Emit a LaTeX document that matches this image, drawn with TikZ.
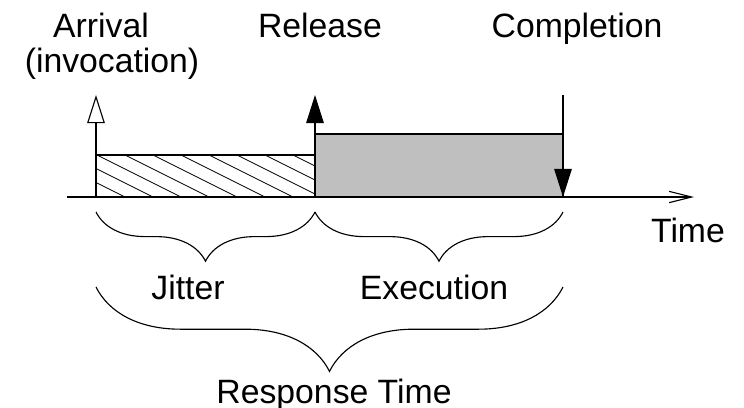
\documentclass[tikz,border=0pt]{standalone}
\usepackage{fontspec}
\setmainfont{Liberation Sans}
\usetikzlibrary{arrows.meta,decorations.pathreplacing}

\begin{document}
\begin{tikzpicture}[x=0.025cm,y=-0.025cm,line width=0.8pt,font=\fontsize{24}{28}\selectfont,
	lbl/.style={anchor=base},
	evt/.style={-{Triangle[length=20pt,width=12.5pt]}},
	arrv/.style={-{Triangle[open,length=20pt,width=12.5pt]}},
	brc/.style={decorate,decoration={brace,mirror,amplitude=#1}}]
	\useasboundingbox (0,0) rectangle (744,408);

	%time instants
	\coordinate (arr) at (96,197);
	\coordinate (rel) at (315,197);
	\coordinate (cpl) at (563,197);
	\coordinate (arrtop) at (96,95);
	\coordinate (reltop) at (315,95);
	\coordinate (cpltop) at (563,95);
	\coordinate (ax0) at (67,197);
	\coordinate (ax1) at (694,197);

	%jitter (hatched)
	\draw (arr) rectangle (315,155);
	\begin{scope}
		\clip (arr) rectangle (315,155);
		\foreach \x in {-15,13,...,320}
			\draw[line width=0.6pt] (\x,155) -- ++(84,42);
	\end{scope}

	%execution (grey)
	\draw[fill=gray!50] (rel) rectangle (563,134);

	%axis
	\draw[-{Straight Barb[length=16pt,width=8pt]}] (ax0) -- (ax1);

	%arrival, release, completion
	\draw[arrv] (arr) -- (arrtop);
	\draw[evt] (rel) -- (reltop);
	\draw[evt] (cpltop) -- (cpl);

	%braces
	\coordinate (jl) at (96,212);
	\coordinate (jr) at (315,212);
	\coordinate (er) at (563,212);
	\coordinate (rl) at (96,287);
	\coordinate (rr) at (563,287);
	\draw[brc=35pt] (jl) -- (jr); %jitter
	\draw[brc=35pt] (jr) -- (er); %execution
	\draw[brc=60pt] (rl) -- (rr); %response

	%labels
	\node[lbl] (arrival) at (101,37) {Arrival};
	\node[lbl] (invoc) at (112,72) {(invocation)};
	\node[lbl] (release) at (320,37) {Release};
	\node[lbl] (complet) at (577,37) {Completion};
	\node[lbl] (time) at (688,242) {Time};
	\node[lbl] (jitter) at (188,299) {Jitter};
	\node[lbl] (exec) at (434,299) {Execution};
	\node[lbl] (resp) at (334,403) {Response Time};
\end{tikzpicture}
\end{document}
